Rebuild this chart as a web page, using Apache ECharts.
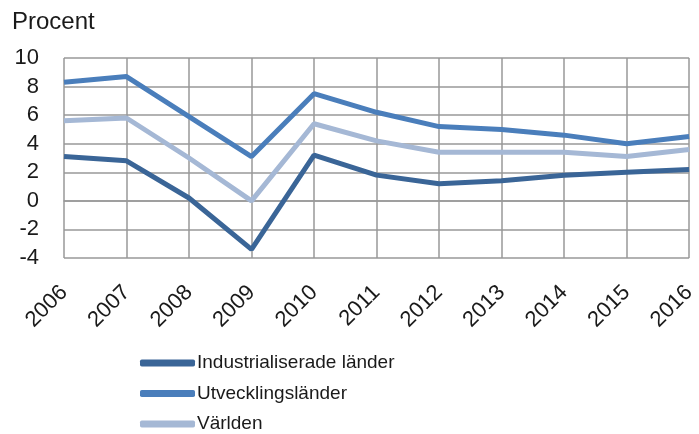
<!DOCTYPE html>
<html>
<head>
<meta charset="utf-8">
<script src="https://cdn.jsdelivr.net/npm/echarts@6/dist/echarts.min.js"></script>
<style>
  html, body { margin: 0; padding: 0; background: #fff; }
  #chart { width: 699px; height: 434px; }
</style>
</head>
<body>
<div id="chart"></div>
<script>
const years = ["2006","2007","2008","2009","2010","2011","2012","2013","2014","2015","2016"];
const industrial = [3.1, 2.8, 0.2, -3.4, 3.2, 1.8, 1.2, 1.4, 1.8, 2.0, 2.2];
const developing = [8.3, 8.7, 5.9, 3.1, 7.5, 6.2, 5.2, 5.0, 4.6, 4.0, 4.5];
const world = [5.6, 5.8, 3.0, 0.0, 5.4, 4.2, 3.4, 3.4, 3.4, 3.1, 3.6];

const names = ["Industrialiserade länder", "Utvecklingsländer", "Världen"];
const colors = ["#3a6597", "#4a7ebb", "#a5b8d5"];

const font = "Liberation Sans, Arial, sans-serif";
const chart = echarts.init(document.getElementById("chart"));

function line(name, data, color) {
    return {
        name: name,
        type: "line",
        data: data,
        symbol: "none",
        lineStyle: { width: 5, color: color },
        itemStyle: { color: color }
    };
}

chart.setOption({
    animation: false,
    color: colors,
    title: {
        text: "Procent",
        left: 12,
        top: 10,
        padding: 0,
        textStyle: { fontFamily: font, fontSize: 24, fontWeight: "normal", color: "#1a1a1a" }
    },
    grid: { left: 64, right: 6, top: 58, height: 200, containLabel: false },
    xAxis: {
        type: "category",
        data: years,
        boundaryGap: false,
        axisLine: { show: true, lineStyle: { color: "#999", width: 1.5 } },
        axisTick: { show: false },
        splitLine: { show: true, lineStyle: { color: "#999", width: 1.5 } },
        axisLabel: {
            rotate: 45,
            margin: 31,
            fontFamily: font,
            fontSize: 22,
            color: "#1a1a1a"
        }
    },
    yAxis: {
        type: "value",
        min: -4,
        max: 10,
        interval: 2,
        axisLine: { show: false },
        axisTick: { show: false },
        splitLine: { show: true, lineStyle: { color: "#999", width: 1.5 } },
        axisLabel: {
            margin: 25,
            fontFamily: font,
            fontSize: 22,
            color: "#1a1a1a"
        }
    },
    legend: {
        orient: "vertical",
        left: 140,
        top: 353,
        padding: 0,
        itemWidth: 55,
        itemHeight: 7,
        itemGap: 10.5,
        icon: "roundRect",
        textStyle: { fontFamily: font, fontSize: 19, color: "#1a1a1a", padding: [0, 0, 0, -3], lineHeight: 20 },
        data: names
    },
    series: [
        line(names[0], industrial, colors[0]),
        line(names[1], developing, colors[1]),
        line(names[2], world, colors[2])
    ]
});
</script>
</body>
</html>
